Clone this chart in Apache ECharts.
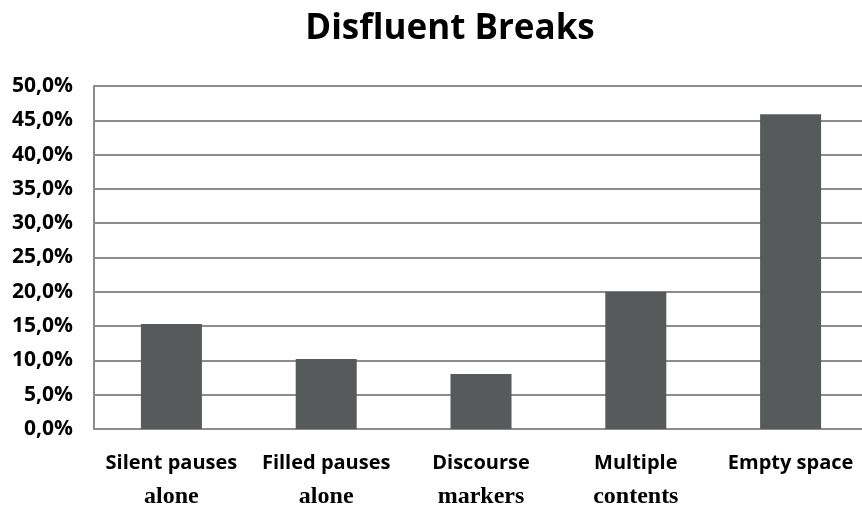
<!DOCTYPE html>
<html style="height: 506px;width: 862px;">
<head>
  <meta charset="UTF-8">
  <title>Disfluent Breaks</title>
  <script src="https://cdn.jsdelivr.net/npm/echarts@6/dist/echarts.min.js"></script>
</head>
<body style="margin: 0;height: 100%;width: 100%;background: #ffffff;">
  <div id="chart" style="width: 862px;height: 506px;"></div>
<script>
// categories: first line / second line of each label
var cat_top = ["Silent pauses", "Filled pauses", "Discourse", "Multiple", "Empty space"];
var cat_bottom = ["alone", "alone", "markers", "contents", ""];
// share of breaks, in percent
var break_values = [15.3, 10.2, 8.0, 20.0, 45.9];

var categories = cat_top.map(function(t, i){ return t + "|" + cat_bottom[i]; });

var option = {
  animation: false,
  title: {
    text: "Disfluent Breaks",
    left: 445,
    textAlign: "center",
    top: 7,
    textStyle: {
      fontFamily: "Open Sans",
      fontWeight: "bold",
      fontSize: 35,
      color: "#000000"
    }
  },
  grid: {
    left: 94,
    top: 86,
    width: 774,
    height: 343,
    containLabel: false,
    outerBoundsMode: "none"
  },
  xAxis: {
    type: "category",
    data: categories,
    axisTick: { show: false },
    axisLine: { show: true, lineStyle: { color: "#8c8c8c", width: 2 } },
    axisLabel: {
      interval: 0,
      margin: 20,
      formatter: function(v){
        var p = v.split("|");
        return "{a|" + p[0] + "}\n{b|" + p[1] + "}";
      },
      rich: {
        a: { fontFamily: "Open Sans", fontWeight: "bold", fontSize: 20, color: "#000", lineHeight: 28 },
        b: { fontFamily: "Liberation Serif", fontWeight: "bold", fontSize: 24, color: "#000", lineHeight: 40 }
      }
    }
  },
  yAxis: {
    type: "value",
    min: 0,
    max: 50,
    interval: 5,
    axisLine: { show: true, lineStyle: { color: "#8c8c8c", width: 2 } },
    axisTick: { show: false },
    splitLine: { show: true, lineStyle: { color: "#8c8c8c", width: 2 } },
    axisLabel: {
      margin: 21,
      fontFamily: "Open Sans",
      fontWeight: "bold",
      fontSize: 21,
      color: "#000",
      formatter: function(v){ return v.toFixed(1).replace(".", ",") + "%"; }
    }
  },
  series: [{
    type: "bar",
    data: break_values,
    barWidth: 61,
    itemStyle: { color: "#565a5a" }
  }]
};

var chart = echarts.init(document.getElementById("chart"));
chart.setOption(option);
</script>
</body>
</html>
